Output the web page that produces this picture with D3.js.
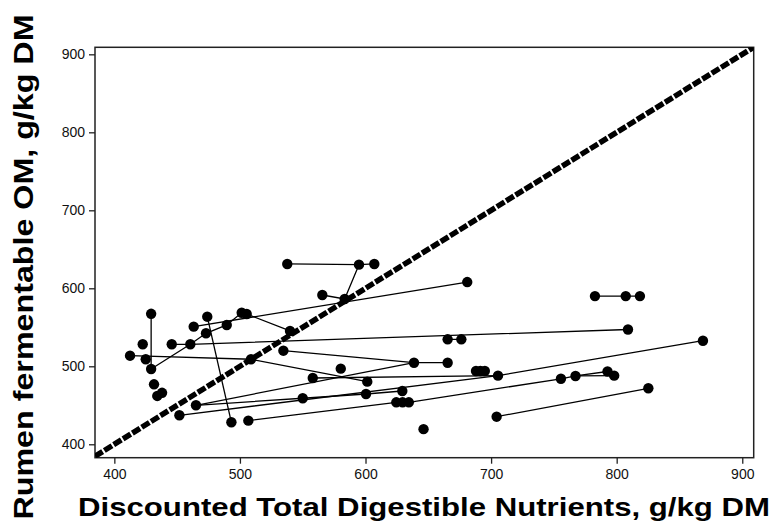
<!DOCTYPE html>
<html><head><meta charset="utf-8">
<script src="https://cdn.jsdelivr.net/npm/d3@7"></script>
<style>body{margin:0;background:#fff;} svg{display:block;}</style>
</head><body>
<script>
// Discounted TDN (x) and rumen fermentable OM (y), g/kg DM
const dtdn = [429.3,429.3,422.6,412.5,425,431.6,434.2,438,445.7,460.5,463.2,474,473,489.5,501.4,505.4,508.8,465,451.8,506.7,493.2,537.7,594.8,607,565.6,583.4,539.9,534.6,665.4,676.3,638.6,665.4,580.3,558,601.4,550,600.4,629.3,624.5,629.5,634.5,646.2,688,691.5,695,705.5,755.6,767.2,792.7,798,704.4,825.2,782.7,807.2,818.5,809,868.7,681];
const rfom = [567.3,496.5,528.2,513.6,509,476.9,462,466,528.2,528.2,550.8,563.6,542.3,553,568.7,567,509,450,437.2,430.3,428.2,631.2,630.3,631.2,591.4,586.3,545.3,520,534.6,534.6,504.6,504.6,497,485,480.3,459,464.5,468.3,453.8,453.8,453.8,419.4,494,494,494,488,484,487.6,493.3,488,435.4,471.8,590,590,590,547.2,532.8,608];
// connected paths (indices into the arrays above)
const chains = [[0,1],[1,9,12,13,14],[8,9,55],[10,57],[11,20],[14,15,26],[3,16,34],[21,22,23],[22,25,24],[27,30,31],[28,29],[17,30],[17,35,36,37],[18,45,56],[33,45],[19,38,39,40,46,47,48],[47,49],[50,51],[52,53,54],[42,43,44]];
const xTicks = [400,500,600,700,800,900];
const yTicks = [400,500,600,700,800,900];
const xTitle = "Discounted Total Digestible Nutrients, g/kg DM";
const yTitle = "Rumen fermentable OM, g/kg DM";

const W = 774, H = 529;
const svg = d3.select("body").append("svg").attr("width", W).attr("height", H);
const x = d3.scaleLinear().domain([384.6, 909.1]).range([95, 753.7]);
const y = d3.scaleLinear().domain([382.8, 909]).range([457.7, 47.3]);

svg.append("clipPath").attr("id","c").append("rect")
  .attr("x",95).attr("y",47.3).attr("width",753.7-95).attr("height",457.7-47.3);

// axes
const gx = svg.append("g").attr("transform","translate(0,457.7)")
  .call(d3.axisBottom(x).tickValues(xTicks).tickSize(6).tickPadding(5).tickFormat(d3.format("d")));
const gy = svg.append("g").attr("transform","translate(95,0)")
  .call(d3.axisLeft(y).tickValues(yTicks).tickSize(6).tickPadding(4).tickFormat(d3.format("d")));
[gx,gy].forEach(g=>{
  g.select(".domain").remove();
  g.selectAll(".tick line").attr("stroke","#222").attr("stroke-width",1.3);
  g.selectAll(".tick text").attr("fill","#111").style("font-family","'Liberation Sans', Arial, sans-serif").style("font-size","14px");
});

// frame
svg.append("rect").attr("x",95).attr("y",47.3).attr("width",753.7-95).attr("height",457.7-47.3)
  .attr("fill","none").attr("stroke","#222").attr("stroke-width",1.5);

const plot = svg.append("g").attr("clip-path","url(#c)");

// 1:1 line (thick dashed)
const d0 = 384.6, d1 = 909.1;
plot.append("line").attr("x1",x(d0)).attr("y1",y(d0)).attr("x2",x(d1)).attr("y2",y(d1))
  .attr("stroke","#000").attr("stroke-width",5.5).attr("stroke-dasharray","9 2");

// connecting lines
const lineGen = d3.line().x(i=>x(dtdn[i])).y(i=>y(rfom[i]));
plot.selectAll("path.ch").data(chains).enter().append("path").attr("class","ch")
  .attr("d", lineGen).attr("fill","none").attr("stroke","#000").attr("stroke-width",1.3);

// points
plot.selectAll("circle").data(d3.range(dtdn.length)).enter().append("circle")
  .attr("cx", i=>x(dtdn[i])).attr("cy", i=>y(rfom[i])).attr("r",5.2).attr("fill","#000");

// titles
svg.append("text").attr("x",424).attr("y",516).attr("text-anchor","middle")
  .attr("textLength",692).attr("lengthAdjust","spacingAndGlyphs")
  .style("font-family","'Liberation Sans', Arial, sans-serif").style("font-weight","bold").style("font-size","25px")
  .text(xTitle);
svg.append("text").attr("transform","translate(33,267) rotate(-90)").attr("text-anchor","middle")
  .attr("textLength",505).attr("lengthAdjust","spacingAndGlyphs")
  .style("font-family","'Liberation Sans', Arial, sans-serif").style("font-weight","bold").style("font-size","28px")
  .text(yTitle);
</script>
</body></html>
